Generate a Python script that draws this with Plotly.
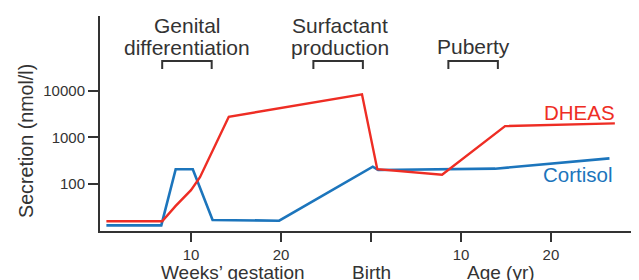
import plotly.graph_objects as go

# ---- data (x: weeks' gestation 0-30 = birth, then 30 + age in years) ----
dheas_x = [0.6, 6.8, 8.3, 10.0, 11.0, 14.2, 29.0, 30.7, 37.9, 44.9, 57.1]
dheas_y = [16, 16, 34, 74, 140, 2750, 8300, 207, 158, 1740, 1990]

cortisol_x = [0.6, 6.7, 8.3, 10.2, 12.4, 19.8, 30.2, 30.8, 43.8, 56.5]
cortisol_y = [13, 13, 207, 207, 17, 16.4, 235, 200, 213, 354]

x_tickvals = [10, 20, 30, 40, 50]
x_ticktext = ["10", "20", "", "10", "20"]
y_tickvals = [100, 1000, 10000]
y_ticktext = ["100", "1000", "10000"]

phase_start = [6.8, 23.6, 38.6]
phase_end = [12.3, 29.1, 44.1]

RED = "#ee2d24"
BLUE = "#1c75bc"
INK = "#333333"
FONT = "Liberation Sans, Arial, Helvetica, sans-serif"

# page has an 8px body margin; compensate so the plot lands where intended
OFF = 8
W, H = 639 - OFF, 280 - OFF
# desired page-pixel plot box: x 100..637, y 16..231
L, R = 100 - OFF, 639 - 637
T, B = 16 - OFF, 280 - 231
PW, PH = W - L - R, H - T - B


def px_x(x):
    # page pixel -> paper fraction
    return (x - OFF - L) / PW


def px_y(y):
    return (H - B - (y - OFF)) / PH


fig = go.Figure()
fig.add_trace(go.Scatter(x=cortisol_x, y=cortisol_y, mode="lines",
                         line=dict(color=BLUE, width=2.6), name="Cortisol",
                         hoverinfo="skip"))
fig.add_trace(go.Scatter(x=dheas_x, y=dheas_y, mode="lines",
                         line=dict(color=RED, width=2.4), name="DHEAS",
                         hoverinfo="skip"))

# brackets for developmental phases
for x0, x1 in zip(phase_start, phase_end):
    fig.add_shape(type="path", xref="x", yref="paper",
                  path=f"M {x0},{px_y(69)} L {x0},{px_y(61)} L {x1},{px_y(61)} L {x1},{px_y(69)}",
                  line=dict(color=INK, width=2))

annots = []


def txt(s, xc, yc, size=21, color=INK, angle=0):
    annots.append(dict(text=s, x=px_x(xc), y=px_y(yc), xref="paper", yref="paper",
                       xanchor="center", yanchor="middle", showarrow=False,
                       textangle=angle, font=dict(size=size, color=color, family=FONT)))


# phase labels (each line placed separately for tight leading)
txt("Genital", 187, 25.5)
txt("differentiation", 187, 47.7)
txt("Surfactant", 340, 25.5)
txt("production", 340, 47.7)
txt("Puberty", 473, 46.2)

# series labels
txt("DHEAS", 579.5, 112.7, size=20.5, color=RED)
txt("Cortisol", 578, 174.7, size=20.5, color=BLUE)

# axis titles
txt("Weeks’ gestation", 233, 272, size=19)
txt("Birth", 371, 272, size=19)
txt("Age (yr)", 501, 272, size=19)
txt("Secretion (nmol/l)", 26, 141, size=19.7, angle=-90)

fig.update_layout(
    width=W, height=H,
    margin=dict(l=L, r=R, t=T, b=B, pad=0),
    paper_bgcolor="white", plot_bgcolor="white",
    showlegend=False,
    annotations=annots,
    font=dict(family=FONT, color=INK),
    xaxis=dict(range=[-0.11, 59.56], showgrid=False, zeroline=False,
               showline=True, linecolor=INK, linewidth=2,
               ticks="outside", ticklen=9, tickwidth=2, tickcolor=INK,
               tickvals=x_tickvals, ticktext=x_ticktext,
               tickfont=dict(size=15, color=INK, family=FONT)),
    yaxis=dict(type="log", range=[0.994, 5.597], showgrid=False, zeroline=False,
               showline=True, linecolor=INK, linewidth=2,
               ticks="outside", ticklen=10, tickwidth=2, tickcolor=INK,
               tickvals=y_tickvals, ticktext=y_ticktext,
               tickfont=dict(size=15, color=INK, family=FONT)),
)

fig.write_html("out.html")
